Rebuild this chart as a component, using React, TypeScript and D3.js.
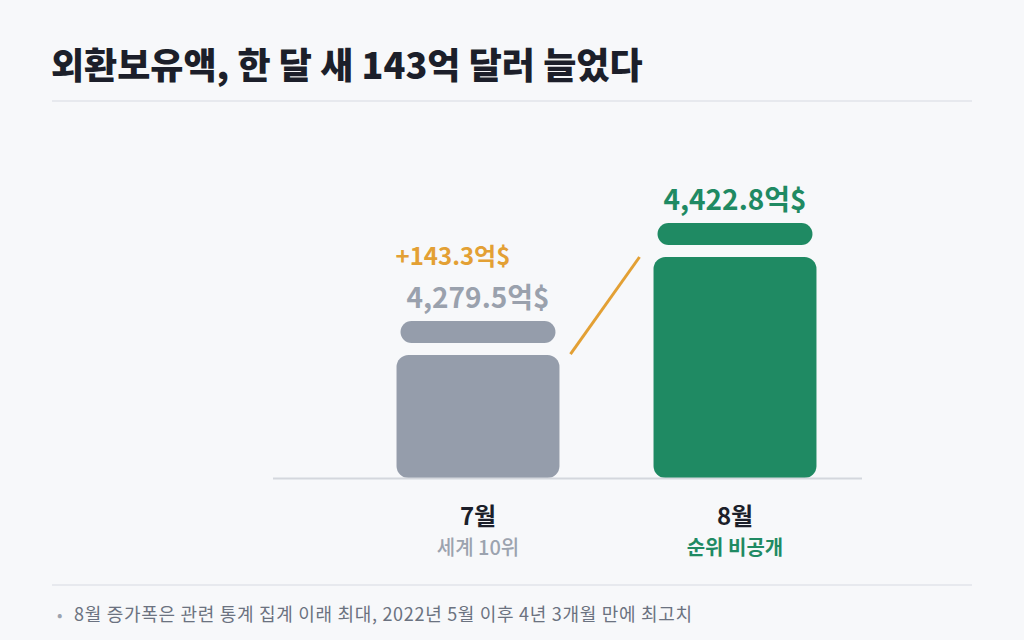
import * as d3 from 'd3'
import { useEffect, useRef } from 'react'

const months = ['7월', '8월']
const reserves = [4279.5, 4422.8]
const valueLabels = ['4,279.5억$', '4,422.8억$']
const rankLabels = ['세계 10위', '순위 비공개']
const changeLabel = '+143.3억$'
const barColors = ['#959dab', '#1f8a63']
const valueColors = ['#9aa1ad', '#1f8a63']
const rankColors = ['#9ca3af', '#1f8a63']

const title = '외환보유액, 한 달 새 143억 달러 늘었다'
const footnote = '8월 증가폭은 관련 통계 집계 이래 최대, 2022년 5월 이후 4년 3개월 만에 최고치'

const FONT = '"Noto Sans CJK KR", "Noto Sans", sans-serif'

export default function App() {
    const svgRef = useRef<SVGSVGElement>(null)
    const width = 1024
    const height = 640

    useEffect(() => {
        document.body.style.margin = '0'
        if (!svgRef.current) return
        const svg = d3.select(svgRef.current)
        svg.selectAll('*').remove()

        svg.append('rect')
            .attr('width', width)
            .attr('height', height)
            .attr('fill', '#f7f8fa')

        // Title + rule
        svg.append('text')
            .attr('x', 51)
            .attr('y', 79)
            .attr('font-family', FONT)
            .attr('font-weight', 900)
            .attr('font-size', 36)
            .attr('fill', '#1c1f2a')
            .text(title)

        svg.append('line')
            .attr('x1', 52)
            .attr('x2', 972)
            .attr('y1', 101)
            .attr('y2', 101)
            .attr('stroke', '#e2e5ea')
            .attr('stroke-width', 1.5)

        const baseline = 478

        const x = d3
            .scaleBand()
            .domain(months)
            .range([349.5, 863.5])
            .paddingInner(0.366)
            .paddingOuter(0.183)

        const y = d3.scaleLinear().domain([4050, 4450]).range([baseline, 204.4])

        const bw = x.bandwidth()
        const capH = 22
        const gap = 12

        const g = svg.append('g')

        // bar bodies
        g.selectAll('.bar')
            .data(months)
            .enter()
            .append('rect')
            .attr('class', 'bar')
            .attr('x', (d) => x(d) || 0)
            .attr('y', (_, i) => y(reserves[i]) + capH + gap)
            .attr('width', bw)
            .attr('height', (_, i) => baseline - (y(reserves[i]) + capH + gap))
            .attr('rx', 12)
            .attr('fill', (_, i) => barColors[i])

        // caps
        g.selectAll('.cap')
            .data(months)
            .enter()
            .append('rect')
            .attr('class', 'cap')
            .attr('x', (d) => (x(d) || 0) + 4)
            .attr('y', (_, i) => y(reserves[i]))
            .attr('width', bw - 8)
            .attr('height', capH)
            .attr('rx', capH / 2)
            .attr('fill', (_, i) => barColors[i])

        // baseline
        g.append('line')
            .attr('x1', 273)
            .attr('x2', 862)
            .attr('y1', baseline + 0.5)
            .attr('y2', baseline + 0.5)
            .attr('stroke', '#d4d7dd')
            .attr('stroke-width', 2)

        // connector
        const x1 = (x(months[0]) || 0) + bw + 11
        const y1 = y(reserves[0]) + capH + gap - 1
        const x2 = (x(months[1]) || 0) - 14
        const y2 = y(reserves[1]) + capH + gap
        g.append('line')
            .attr('x1', x1)
            .attr('y1', y1)
            .attr('x2', x2)
            .attr('y2', y2)
            .attr('stroke', '#e3a034')
            .attr('stroke-width', 3)

        // value labels
        g.selectAll('.val')
            .data(months)
            .enter()
            .append('text')
            .attr('class', 'val')
            .attr('x', (d) => (x(d) || 0) + bw / 2)
            .attr('y', (_, i) => y(reserves[i]) - 13)
            .attr('text-anchor', 'middle')
            .attr('font-family', FONT)
            .attr('font-weight', 700)
            .attr('font-size', 28)
            .attr('fill', (_, i) => valueColors[i])
            .text((_, i) => valueLabels[i])

        g.append('text')
            .attr('x', (x(months[0]) || 0) - 1)
            .attr('y', y(reserves[0]) - 56)
            .attr('font-family', FONT)
            .attr('font-weight', 700)
            .attr('font-size', 24)
            .attr('fill', '#e3a034')
            .text(changeLabel)

        // category labels
        g.selectAll('.month')
            .data(months)
            .enter()
            .append('text')
            .attr('class', 'month')
            .attr('x', (d) => (x(d) || 0) + bw / 2)
            .attr('y', baseline + 47)
            .attr('text-anchor', 'middle')
            .attr('font-family', FONT)
            .attr('font-weight', 700)
            .attr('font-size', 24)
            .attr('fill', '#1c1f2a')
            .text((d) => d)

        g.selectAll('.rank')
            .data(months)
            .enter()
            .append('text')
            .attr('class', 'rank')
            .attr('x', (d) => (x(d) || 0) + bw / 2)
            .attr('y', baseline + 77)
            .attr('text-anchor', 'middle')
            .attr('font-family', FONT)
            .attr('font-weight', (_, i) => (i === 1 ? 700 : 500))
            .attr('font-size', 20)
            .attr('fill', (_, i) => rankColors[i])
            .text((_, i) => rankLabels[i])

        // footer
        svg.append('line')
            .attr('x1', 52)
            .attr('x2', 972)
            .attr('y1', 585)
            .attr('y2', 585)
            .attr('stroke', '#e2e5ea')
            .attr('stroke-width', 1.5)

        svg.append('text')
            .attr('x', 57)
            .attr('y', 621)
            .attr('font-family', FONT)
            .attr('font-size', 16)
            .attr('fill', '#9ca3af')
            .text('•')

        svg.append('text')
            .attr('x', 74)
            .attr('y', 621)
            .attr('font-family', FONT)
            .attr('font-size', 18)
            .attr('letter-spacing', 0.7)
            .attr('fill', '#6b7280')
            .text(footnote)
    }, [])

    return <svg ref={svgRef} width={width} height={height} style={{ display: 'block' }} />
}
